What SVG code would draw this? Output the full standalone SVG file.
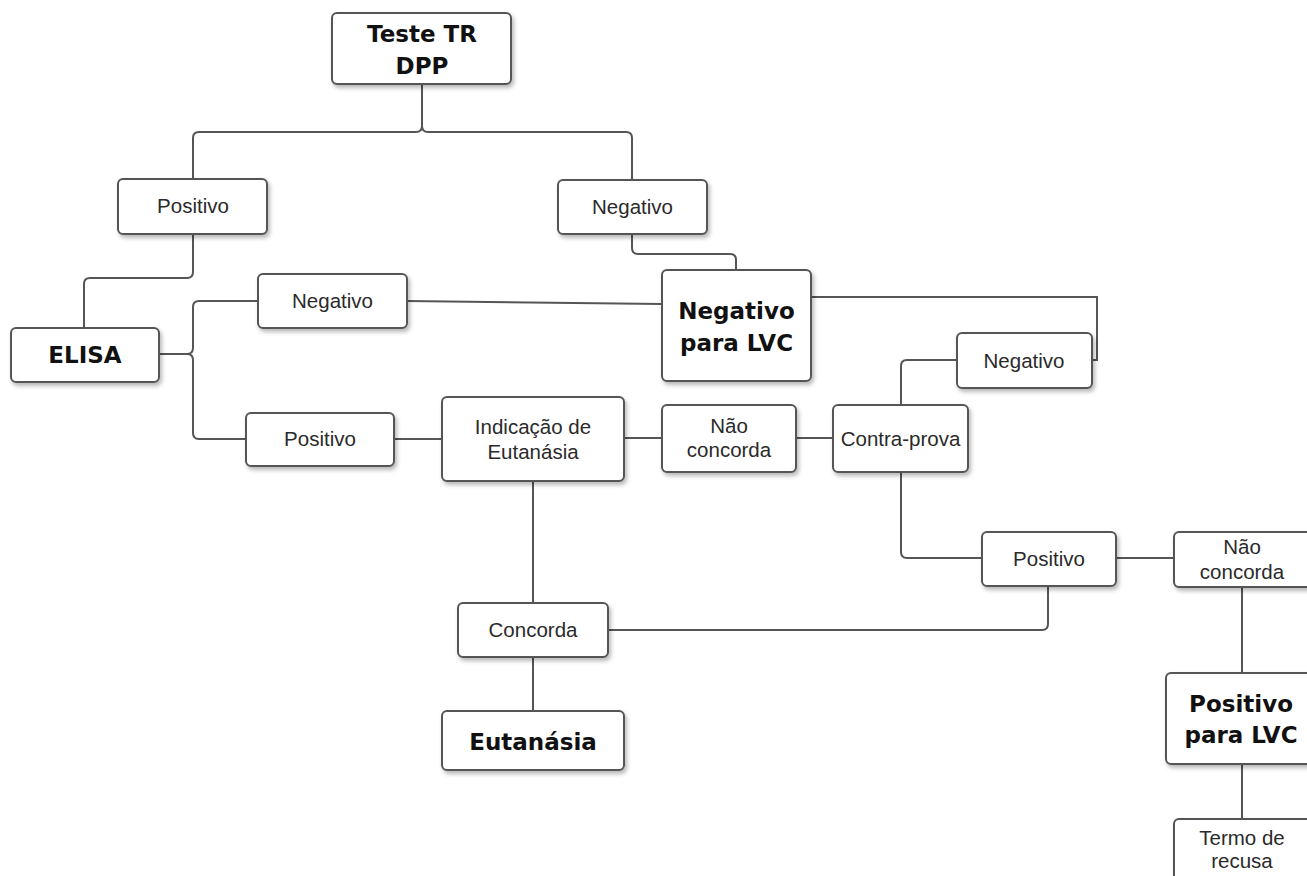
<svg xmlns="http://www.w3.org/2000/svg" width="1307" height="876" viewBox="0 0 1307 876">
<style>
.box{fill:#fff;stroke:#555;stroke-width:2;filter:url(#sh)}
.t{font-family:"Liberation Sans",Arial,sans-serif;font-size:20.5px;fill:#2a2a2a;text-anchor:middle}
.b{font-family:"DejaVu Sans",Verdana,sans-serif;font-weight:bold;font-size:23px;fill:#111;text-anchor:middle}
.c{fill:none;stroke:#555;stroke-width:2}
</style>
<defs>
<filter id="sh" x="-10%" y="-10%" width="130%" height="140%">
<feDropShadow dx="2" dy="3" stdDeviation="2" flood-color="#000" flood-opacity="0.28"/>
</filter>
</defs>
<rect width="1307" height="876" fill="#fff"/>
<g id="connectors" class="c">
<path d="M422,84 V126 Q422,132 416,132 H199 Q193,132 193,138 V179"/>
<path d="M422,126 Q422,132 428,132 H626 Q632,132 632,138 V180"/>
<path d="M632,234 V248 Q632,254 638,254 H730 Q736,254 736,260 V270"/>
<path d="M193,234 V272 Q193,278 187,278 H90 Q84,278 84,284 V328"/>
<path d="M159,354 H187 Q193,354 193,348 V307 Q193,301 199,301 H258"/>
<path d="M187,354 Q193,354 193,360 V433 Q193,439 199,439 H246"/>
<path d="M407,301 L662,304"/>
<path d="M811,297 H1097 V360 H1092"/>
<path d="M394,439 H442"/>
<path d="M624,438 H662"/>
<path d="M796,438 H833"/>
<path d="M901,405 V366 Q901,360 907,360 H957"/>
<path d="M901,472 V552 Q901,558 907,558 H982"/>
<path d="M1116,558 H1174"/>
<path d="M1048,586 V624 Q1048,630 1042,630 H608"/>
<path d="M533,481 V603"/>
<path d="M533,657 V711"/>
<path d="M1242,587 V673"/>
<path d="M1242,764 V819"/>
</g>
<g id="n-teste"><rect class="box" x="332" y="13" width="179" height="71" rx="5"/><text class="b" x="422" y="42">Teste TR</text><text class="b" x="422" y="74">DPP</text></g>
<g id="n-positivo1"><rect class="box" x="118" y="179" width="149" height="55" rx="5"/><text class="t" x="193" y="213">Positivo</text></g>
<g id="n-negativo1"><rect class="box" x="558" y="180" width="149" height="54" rx="5"/><text class="t" x="632.5" y="214">Negativo</text></g>
<g id="n-elisa"><rect class="box" x="11" y="328" width="148" height="54" rx="5"/><text class="b" x="85" y="363">ELISA</text></g>
<g id="n-negativo2"><rect class="box" x="258" y="274" width="149" height="54" rx="5"/><text class="t" x="332.5" y="308">Negativo</text></g>
<g id="n-neglvc"><rect class="box" x="662" y="270" width="149" height="111" rx="5"/><text class="b" x="736.5" y="319">Negativo</text><text class="b" x="736.5" y="351">para LVC</text></g>
<g id="n-negativo3"><rect class="box" x="957" y="333" width="135" height="55" rx="5"/><text class="t" x="1024" y="368">Negativo</text></g>
<g id="n-positivo2"><rect class="box" x="246" y="413" width="148" height="53" rx="5"/><text class="t" x="320" y="446">Positivo</text></g>
<g id="n-indicacao"><rect class="box" x="442" y="397" width="182" height="84" rx="5"/><text class="t" x="533" y="434">Indicação de</text><text class="t" x="533" y="459">Eutanásia</text></g>
<g id="n-naoconcorda1"><rect class="box" x="662" y="405" width="134" height="67" rx="5"/><text class="t" x="729" y="433">Não</text><text class="t" x="729" y="457">concorda</text></g>
<g id="n-contraprova"><rect class="box" x="833" y="405" width="135" height="67" rx="5"/><text class="t" x="900.5" y="446">Contra-prova</text></g>
<g id="n-positivo3"><rect class="box" x="982" y="532" width="134" height="54" rx="5"/><text class="t" x="1049" y="566">Positivo</text></g>
<g id="n-naoconcorda2"><rect class="box" x="1174" y="532" width="140" height="55" rx="5"/><text class="t" x="1242" y="554">Não</text><text class="t" x="1242" y="579">concorda</text></g>
<g id="n-concorda"><rect class="box" x="458" y="603" width="150" height="54" rx="5"/><text class="t" x="533" y="637">Concorda</text></g>
<g id="n-eutanasia"><rect class="box" x="442" y="711" width="182" height="59" rx="5"/><text class="b" x="533" y="750">Eutanásia</text></g>
<g id="n-poslvc"><rect class="box" x="1166" y="673" width="152" height="91" rx="5"/><text class="b" x="1241" y="712">Positivo</text><text class="b" x="1241" y="743">para LVC</text></g>
<g id="n-termo"><rect class="box" x="1174" y="819" width="140" height="70" rx="5"/><text class="t" x="1242" y="845">Termo de</text><text class="t" x="1242" y="868">recusa</text></g>
</svg>
